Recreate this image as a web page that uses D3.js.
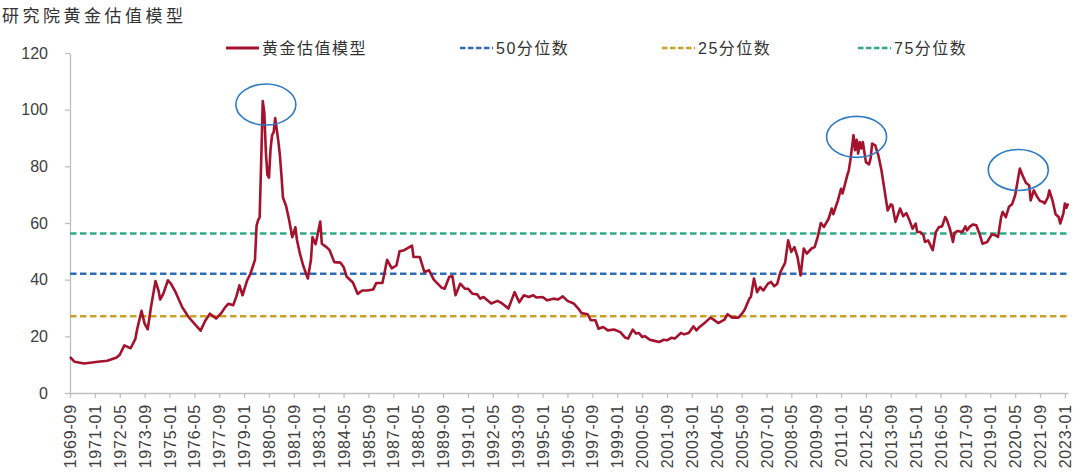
<!DOCTYPE html>
<html>
<head>
<meta charset="utf-8">
<script src="https://cdn.jsdelivr.net/npm/d3@7"></script>
<style>
body{margin:0;background:#fff;}
svg text{font-family:"Liberation Sans","Noto Sans CJK SC",sans-serif;}
.axis path,.axis line{stroke:#bfbfbf;stroke-width:1.3;}
.axis text{fill:#404040;font-size:16px;}
</style>
</head>
<body>
<div id="chart"></div>
<script>
const width = 1080;
const height = 472;
const margin = {top:53,right:12,bottom:79,left:70};

// gold valuation model, monthly readings
const months = [
"1969-09","1969-12","1970-06","1971-03","1971-09","1972-03","1972-05","1972-08","1972-10","1972-12",
"1973-03","1973-04","1973-07","1973-09","1973-11","1974-01","1974-04","1974-06","1974-07","1974-09",
"1974-12","1975-02","1975-05","1975-09","1976-01","1976-05","1976-09","1976-12","1977-03","1977-07",
"1977-10","1978-01","1978-03","1978-06","1978-08","1978-10","1978-12","1979-03","1979-05","1979-08",
"1979-09","1979-10","1979-11","1979-12","1980-01","1980-02","1980-03","1980-04","1980-05","1980-06",
"1980-07","1980-08","1980-09","1980-10","1980-11","1980-12","1981-01","1981-02","1981-04","1981-06",
"1981-08","1981-10","1981-11","1982-01","1982-03","1982-06","1982-08","1982-09","1982-11","1983-02",
"1983-03","1983-06","1983-08","1983-11","1984-03","1984-05","1984-07","1984-11","1985-02","1985-05",
"1985-08","1985-12","1986-02","1986-06","1986-09","1986-12","1987-03","1987-05","1987-08","1988-01",
"1988-02","1988-06","1988-09","1988-12","1989-03","1989-08","1989-10","1990-01","1990-03","1990-05",
"1990-08","1990-11","1991-01","1991-04","1991-07","1991-09","1991-11","1992-04","1992-08","1992-11",
"1993-03","1993-05","1993-07","1993-10","1994-01","1994-04","1994-07","1994-09","1995-01","1995-04",
"1995-08","1995-11","1996-02","1996-05","1996-09","1996-12","1997-02","1997-06","1997-08","1997-11",
"1998-01","1998-04","1998-07","1998-11","1999-03","1999-06","1999-08","1999-11","2000-01","2000-03",
"2000-05","2000-07","2000-10","2001-01","2001-04","2001-07","2001-09","2001-12","2002-02","2002-06",
"2002-08","2002-11","2003-02","2003-04","2003-06","2003-10","2004-01","2004-03","2004-06","2004-10",
"2004-12","2005-03","2005-07","2005-09","2005-11","2006-02","2006-03","2006-05","2006-07","2006-09",
"2006-11","2007-02","2007-04","2007-06","2007-08","2007-10","2008-01","2008-03","2008-05","2008-07",
"2008-09","2008-11","2009-01","2009-03","2009-06","2009-08","2009-10","2009-12","2010-02","2010-05",
"2010-07","2010-08","2010-11","2011-01","2011-02","2011-05","2011-06","2011-07","2011-09","2011-10",
"2011-11","2011-12","2012-01","2012-02","2012-03","2012-05","2012-07","2012-08","2012-09","2012-11",
"2013-01","2013-03","2013-05","2013-07","2013-09","2013-10","2013-12","2014-03","2014-05","2014-07",
"2014-09","2014-11","2015-01","2015-02","2015-04","2015-06","2015-07","2015-09","2015-11","2015-12",
"2016-02","2016-04","2016-06","2016-08","2016-09","2016-11","2017-01","2017-02","2017-04","2017-07",
"2017-09","2017-10","2017-12","2018-02","2018-04","2018-06","2018-08","2018-11","2019-02","2019-04",
"2019-06","2019-08","2019-09","2019-11","2020-01","2020-03","2020-05","2020-08","2020-10","2020-12",
"2021-02","2021-03","2021-05","2021-07","2021-09","2021-11","2021-12","2022-02","2022-03","2022-05",
"2022-07","2022-09","2022-10","2022-12","2023-01","2023-02","2023-03"
];

const values = [
12.7,11.0,10.4,11.0,11.4,12.5,13.5,16.8,16.3,15.8,
19,22,29,24.5,22.5,30,39.5,36,33,35,
39.8,38.5,35.5,30.5,27,24.5,22,25.5,28,26.3,
28,30.4,31.5,31,34,38,34.5,39.8,42,47,
59,61,62,82,103,99,85,77,76,86,
91,92,97,93,89,84,77,69,66,61,
55,58.5,54,49,45,40.4,47,55,52.5,60.5,
52.7,51.5,50.4,46.2,46,44.5,41,39,35,36.2,
36.2,36.5,38.8,38.8,47,44,45,50,50.4,52,
48,48,42.7,43.3,40,37.2,36.8,41,41.2,34.5,
38.6,36.8,36.8,35,34.8,33.3,33.9,31.6,32.5,31.6,
29.8,32.7,35.6,32,34.5,33.9,34.5,33.7,33.9,32.7,
33.3,33,34.1,32.5,31.6,29.8,28.2,27.8,25.7,25.7,
22.7,23.3,22.1,22.4,21.5,19.6,19.2,22.4,21,21.2,
19.8,20,18.8,18.4,18,18.8,18.6,19.5,19.2,21.2,
20.7,21.2,23.5,22.1,23.3,25.1,26.6,25.9,24.7,25.9,
27.8,26.6,26.6,27.8,29.4,33.3,33.9,40.4,35.6,37.4,
36.2,38.6,39.2,37.7,38.6,42.7,45.9,53.9,49.8,51.5,
48,41.5,51,49.2,51,51.5,55.1,60,58.6,61.5,
65.1,63.1,68,72.1,70.4,76.8,78.6,82.1,91,85.7,
89.4,84.5,88.6,86.3,88.6,81.5,80.7,82.7,88,87.4,
83.9,78.6,71.5,64.4,66.6,66.3,60.4,65.1,62.4,63.5,
61,58,59.8,56.8,56.8,55.7,53.3,53.9,51.5,50.4,
56.8,58.6,58.8,62.1,61.2,58,53.3,56.5,57.2,56.8,
58.8,57.4,58.8,59.5,59.2,56.3,52.7,53.3,56,55.7,
55.1,62.1,63.9,62.1,65.7,66.6,69.8,79.2,76.5,74.1,
73.3,68,71.5,69.4,67.8,67.4,66.9,69,71.5,68,
63.1,62.1,59.8,63.3,66.9,65.4,66.9
];

const tickLabels = [
"1969-09","1971-01","1972-05","1973-09","1975-01","1976-05","1977-09","1979-01","1980-05","1981-09",
"1983-01","1984-05","1985-09","1987-01","1988-05","1989-09","1991-01","1992-05","1993-09","1995-01",
"1996-05","1997-09","1999-01","2000-05","2001-09","2003-01","2004-05","2005-09","2007-01","2008-05",
"2009-09","2011-01","2012-05","2013-09","2015-01","2016-05","2017-09","2019-01","2020-05","2021-09",
"2023-01"
];

const yTicks = [0,20,40,60,80,100,120];

// percentile reference lines
const refNames = ["50分位数","25分位数","75分位数"];
const refValues = [42.1,27.1,56.3];
const refColors = ["#2f6db5","#c9a227","#2eab86"];

// circled peaks
const peakMonths = ["1980-03","2011-11","2020-07"];
const peakValues = [101.8,90.4,78.7];

const seriesName = "黄金估值模型";
const lineColor = "#a5122d";

const idx = s => {
  const [y,m] = s.split("-").map(Number);
  return (y-1969)*12 + m - 9;
};

const data = months.map((m,i)=>({t:idx(m),v:values[i]}));

const svg = d3.select("#chart")
.append("svg")
.attr("width",width)
.attr("height",height);

const x = d3.scaleLinear()
.domain([0,d3.max(data,d=>d.t)])
.range([margin.left,width-margin.right]);

const y = d3.scaleLinear()
.domain([0,120])
.range([height-margin.bottom,margin.top]);

// TITLE
svg.append("text")
.attr("x",2)
.attr("y",22)
.attr("font-size",17)
.attr("letter-spacing","3.5px")
.attr("fill","#333")
.text("研究院黄金估值模型");

// X AXIS
const xAxis = svg.append("g")
.attr("class","axis")
.attr("transform",`translate(0,${height-margin.bottom})`)
.call(d3.axisBottom(x)
  .tickValues(tickLabels.map(idx))
  .tickFormat((d,i)=>tickLabels[i])
  .tickSize(5)
  .tickSizeOuter(0)
  .tickPadding(6));

xAxis.selectAll("text")
.attr("transform","rotate(-90)")
.attr("text-anchor","end")
.attr("letter-spacing","0.8px")
.attr("x",-11)
.attr("y",0)
.attr("dy","0.35em");

// Y AXIS
svg.append("g")
.attr("class","axis")
.attr("transform",`translate(${margin.left},0)`)
.call(d3.axisLeft(y)
  .tickValues(yTicks)
  .tickSize(5)
  .tickSizeOuter(0)
  .tickPadding(17));

// REFERENCE LINES
svg.selectAll(".ref")
.data(refValues)
.enter()
.append("line")
.attr("class","ref")
.attr("x1",x.range()[0])
.attr("x2",x.range()[1])
.attr("y1",d=>y(d))
.attr("y2",d=>y(d))
.attr("stroke",(d,i)=>refColors[i])
.attr("stroke-width",2.5)
.attr("stroke-dasharray","6.5,3.5");

// LINE
const line = d3.line()
.x(d=>x(d.t))
.y(d=>y(d.v));

svg.append("path")
.datum(data)
.attr("fill","none")
.attr("stroke",lineColor)
.attr("stroke-width",2.6)
.attr("stroke-linejoin","round")
.attr("d",line);

// PEAK CIRCLES
svg.selectAll(".peak")
.data(peakMonths)
.enter()
.append("ellipse")
.attr("class","peak")
.attr("cx",d=>x(idx(d)))
.attr("cy",(d,i)=>y(peakValues[i]))
.attr("rx",30)
.attr("ry",20.5)
.attr("fill","none")
.attr("stroke","#2e7bc4")
.attr("stroke-width",1.6);

// LEGEND
const legendY = 48;
const legend = [
  {name:seriesName,color:lineColor,dash:null,x:226},
  {name:refNames[0],color:refColors[0],dash:"5.5,2.5",x:460},
  {name:refNames[1],color:refColors[1],dash:"5.5,2.5",x:662},
  {name:refNames[2],color:refColors[2],dash:"5.5,2.5",x:858}
];

const lg = svg.selectAll(".legend")
.data(legend)
.enter()
.append("g")
.attr("transform",d=>`translate(${d.x},${legendY})`);

lg.append("line")
.attr("x1",0)
.attr("x2",33)
.attr("stroke",d=>d.color)
.attr("stroke-width",d=>d.dash?2.5:3)
.attr("stroke-dasharray",d=>d.dash);

lg.append("text")
.attr("x",36)
.attr("dy","0.36em")
.attr("font-size",16)
.attr("letter-spacing","1.5px")
.attr("fill","#333")
.text(d=>d.name);
</script>
</body>
</html>
